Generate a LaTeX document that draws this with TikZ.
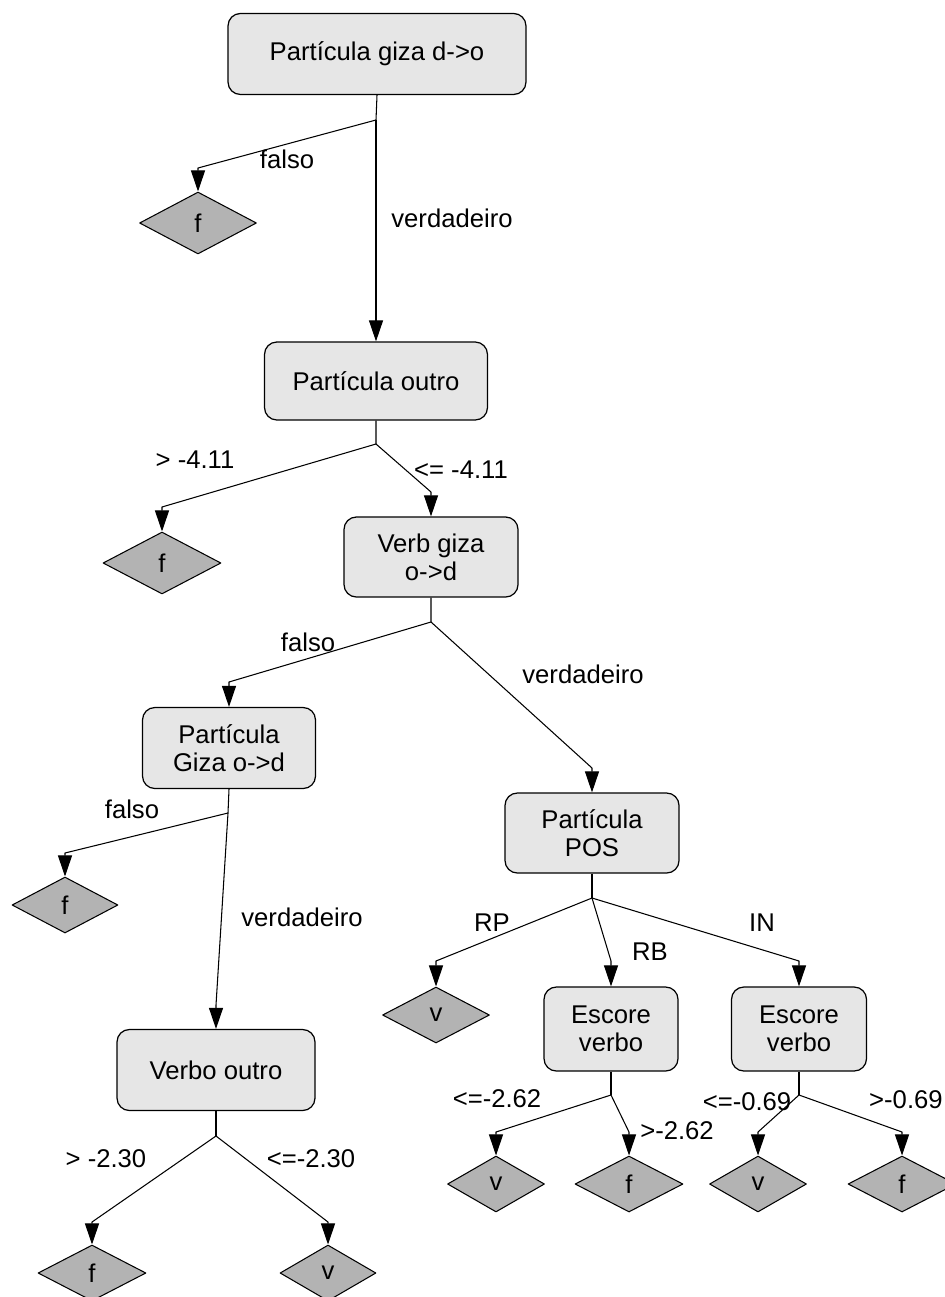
\documentclass[tikz,border=0pt]{standalone}
\usepackage{fontspec}
\setmainfont{Liberation Sans}
\usetikzlibrary{shapes.geometric,arrows.meta}
\definecolor{boxgray}{HTML}{E6E6E6}
\definecolor{leafgray}{HTML}{B3B3B3}
\begin{document}
\begin{tikzpicture}[x=0.02cm, y=-0.02cm, font=\fontsize{14.6}{16}\selectfont, line join=round, >={Triangle[length=12pt,width=8pt]},
		box/.style={draw, line width=0.7pt, fill=boxgray, rounded corners=7pt, align=center, inner sep=2pt},
		leaf/.style={draw, line width=0.6pt, diamond, fill=leafgray, inner sep=0pt},
		edge/.style={->, line width=0.6pt}]
			\useasboundingbox (0,0) rectangle (945,1297);
			% decision nodes
			\node[box, minimum width=5.96cm, minimum height=1.62cm] (n1) at (377,54) {Partícula giza d->o};
			\node[box, minimum width=4.46cm, minimum height=1.56cm] (n2) at (376,381) {Partícula outro};
			\node[box, minimum width=3.48cm, minimum height=1.6cm] (n3) at (431,557) {Verb giza\\o->d};
			\node[box, minimum width=3.46cm, minimum height=1.62cm] (n4) at (229,748) {Partícula\\Giza o->d};
			\node[box, minimum width=3.48cm, minimum height=1.6cm] (n5) at (592,833) {Partícula\\POS};
			\node[box, minimum width=3.96cm, minimum height=1.62cm] (n6) at (216,1070) {Verbo outro};
			\node[box, minimum width=2.68cm, minimum height=1.68cm] (n7) at (611,1029) {Escore\\verbo};
			\node[box, minimum width=2.7cm, minimum height=1.68cm] (n8) at (799,1029) {Escore\\verbo};
			% leaves
			\node[leaf, minimum width=2.34cm, minimum height=1.24cm] (l1) at (198,223) {f};
			\node[leaf, minimum width=2.36cm, minimum height=1.24cm] (l2) at (162,563) {f};
			\node[leaf, minimum width=2.12cm, minimum height=1.12cm] (l3) at (65,905) {f};
			\node[leaf, minimum width=2.14cm, minimum height=1.12cm] (l4) at (436,1015) {v};
			\node[leaf, minimum width=1.94cm, minimum height=1.12cm] (l5) at (496,1184) {v};
			\node[leaf, minimum width=2.16cm, minimum height=1.12cm] (l6) at (629,1184) {f};
			\node[leaf, minimum width=1.94cm, minimum height=1.12cm] (l7) at (758,1184) {v};
			\node[leaf, minimum width=2.16cm, minimum height=1.12cm] (l8) at (902,1184) {f};
			\node[leaf, minimum width=2.16cm, minimum height=1.12cm] (l9) at (92,1273) {f};
			\node[leaf, minimum width=1.92cm, minimum height=1.12cm] (l10) at (328,1273) {v};
			% junctions and bends
			\coordinate (j1) at (376,120);
			\coordinate (j2) at (376,444);
			\coordinate (j3) at (431,622);
			\coordinate (j4) at (228,813);
			\coordinate (j5) at (592,898);
			\coordinate (j6) at (611,1095);
			\coordinate (j7) at (799,1095);
			\coordinate (j8) at (216,1136);
			\coordinate (b1) at (198,168);
			\coordinate (b2) at (162,507);
			\coordinate (b3) at (431,492);
			\coordinate (b4) at (229,682);
			\coordinate (b5) at (592,768);
			\coordinate (b6) at (65,853);
			\coordinate (b7) at (216,1005);
			\coordinate (b8) at (436,961);
			\coordinate (b9) at (611,961);
			\coordinate (b10) at (799,961);
			\coordinate (b11) at (496,1132);
			\coordinate (b12) at (629,1132);
			\coordinate (b13) at (758,1132);
			\coordinate (b14) at (902,1132);
			\coordinate (b15) at (92,1222);
			\coordinate (b16) at (328,1222);
			% connectors
			\draw[line width=0.6pt] (n1.south) -- (j1) (n2.south) -- (j2) (n3.south) -- (j3) (n4.south) -- (j4);
			\draw[line width=0.6pt] (n5.south) -- (j5) (n7.south) -- (j6) (n8.south) -- (j7) (n6.south) -- (j8);
			\draw[edge] (j1) -- (b1) -- (l1.north);
			\draw[edge] (j1) -- (n2.north);
			\draw[edge] (j2) -- (b2) -- (l2.north);
			\draw[edge] (j2) -- (b3) -- (n3.north);
			\draw[edge] (j3) -- (b4) -- (n4.north);
			\draw[edge] (j3) -- (b5) -- (n5.north);
			\draw[edge] (j4) -- (b6) -- (l3.north);
			\draw[edge] (j4) -- (b7) -- (n6.north);
			\draw[edge] (j5) -- (b8) -- (l4.north);
			\draw[edge] (j5) -- (b9) -- (n7.north);
			\draw[edge] (j5) -- (b10) -- (n8.north);
			\draw[edge] (j6) -- (b11) -- (l5.north);
			\draw[edge] (j6) -- (b12) -- (l6.north);
			\draw[edge] (j7) -- (b13) -- (l7.north);
			\draw[edge] (j7) -- (b14) -- (l8.north);
			\draw[edge] (j8) -- (b15) -- (l9.north);
			\draw[edge] (j8) -- (b16) -- (l10.north);
			% labels
			\node (t1) at (287,159) {falso};
			\node (t2) at (452,218) {verdadeiro};
			\node (t3) at (195,460) {> -4.11};
			\node (t4) at (461,470) {<= -4.11};
			\node (t5) at (308,642) {falso};
			\node (t6) at (583,674) {verdadeiro};
			\node (t7) at (132,809) {falso};
			\node (t8) at (302,917) {verdadeiro};
			\node (t9) at (492,923) {RP};
			\node (t10) at (650,952) {RB};
			\node (t11) at (762,923) {IN};
			\node (t12) at (497,1099) {<=-2.62};
			\node (t13) at (677,1131) {>-2.62};
			\node (t14) at (747,1102) {<=-0.69};
			\node[anchor=east, inner sep=0pt] (t15) at (943,1100) {>-0.69};
			\node (t16) at (106,1159) {> -2.30};
			\node (t17) at (311,1159) {<=-2.30};
		\end{tikzpicture}
\end{document}
